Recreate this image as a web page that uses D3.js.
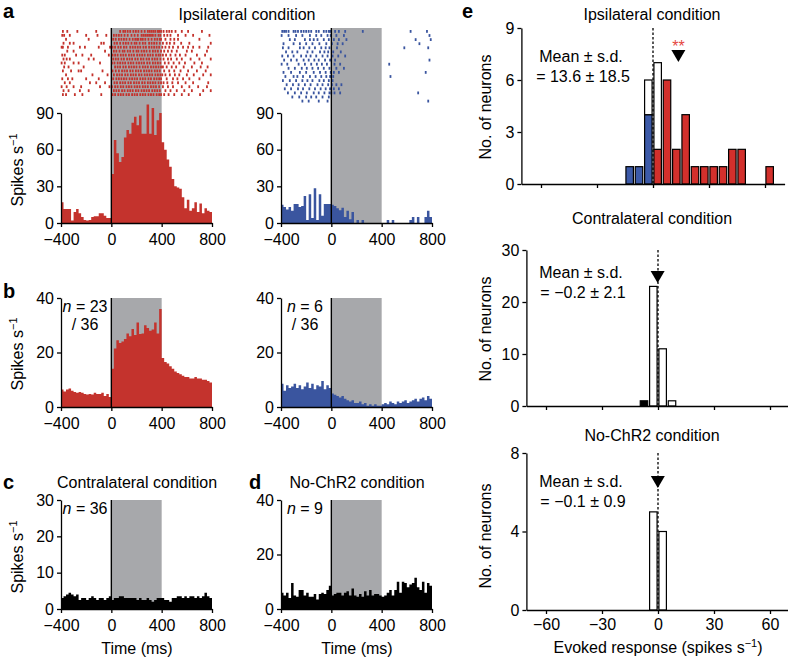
<!DOCTYPE html>
<html>
<head>
<meta charset="utf-8">
<script src="https://cdn.jsdelivr.net/npm/d3@7"></script>
<style>
  body { margin: 0; background: #fff; }
  svg { display: block; font-family: "Liberation Sans", Arial, sans-serif; }
</style>
</head>
<body>
<svg id="fig" width="788" height="664"></svg>
<script>
// ---- data ----
// PSTH bins: 20 ms from -400 to 800 ms
const binStart = d3.range(-400, 800, 20);

// a: single example neurons (spikes/s)
const rateIpsiUp = [
  17, 11.5, 11.5, 11.5, 2, 9, 11.5, 8, 5, 2.5, 2, 2.5, 5, 5.5, 5.5, 8, 8, 6, 4, 4,
  40, 68, 57, 50, 54, 70, 76, 73, 82, 87, 80, 88, 73, 73, 97, 73, 94, 72, 84, 90,
  66, 60, 52, 46, 36, 30, 29, 28, 21, 12, 19, 10, 12, 17, 9, 16, 8, 12, 10, 9
];
const rateIpsiDown = [
  15, 13, 11, 13, 10, 15.5, 15.5, 13, 14, 22, 2.5, 23.5, 4, 28.5, 2.5, 23.5, 6, 15.5, 15.5, 15.5,
  15, 14, 12, 10.5, 12.5, 5, 10, 3, 9, 0, 2.5, 0, 2.5, 0, 0, 0, 0, 0, 0, 0,
  0, 0, 2.5, 0, 2.5, 0, 0, 0, 0, 0, 0, 2.5, 5, 0, 5, 0, 0, 5, 10, 5
];
// b: population averages
const rateUpPop = [
  6.4, 5.7, 6.4, 6.8, 6, 5.5, 5.2, 5.5, 5.2, 4.8, 4.6, 4.8, 4.6, 5.2, 4.8, 4.8, 5.2, 4, 4.8, 3.7,
  14, 21.5, 24.5, 23.5, 24, 25, 27, 26, 28.6, 26.4, 31, 26.8, 27, 30, 29, 28, 28.4, 31, 27, 36,
  18, 16.5, 16, 15, 14, 13, 12.5, 12, 11.5, 11, 11, 10.5, 10.5, 11, 10.5, 10.5, 10, 10, 9.5, 9
];
const rateDownPop = [
  8.5, 6, 8, 7, 7.5, 8.5, 7, 8, 6.5, 7.5, 9, 7, 8.5, 6.5, 8, 7.5, 9.5, 6.5, 8, 7,
  5, 4.5, 4, 3.5, 4, 3, 2.5, 2, 2.5, 1.5, 1.5, 2, 1, 1.5, 0.5, 1, 0.5, 1, 0.5, 0.5,
  1, 1.5, 1, 2, 1.5, 1, 2, 1.5, 2, 2.5, 1.5, 2, 2.5, 3, 2, 3, 3.5, 2.5, 4, 3
];
// c, d
const rateContra = [
  3, 3.5, 4, 4.5, 4, 3.5, 4, 2.5, 3, 3, 2.5, 3, 3.5, 3, 2.5, 3, 3, 2.5, 3, 3.5,
  2.5, 3, 3, 3.5, 3.5, 3, 3, 3, 3, 3, 2.5, 3, 2.5, 2.5, 3, 2.5, 2, 2.5, 3, 3,
  3, 2.5, 2.5, 2, 3, 3, 3.5, 3.5, 3, 3.5, 3, 3.5, 3.5, 3, 3.5, 3, 3.5, 4.5, 3.5, 3
];
const rateNoChR2 = [
  6, 5, 6, 4, 9.5, 5, 4.5, 7, 7, 5, 6, 4.5, 4.5, 5.5, 3.5, 5.5, 6, 5.5, 7, 8.5,
  5, 5.5, 6, 6, 5, 6, 6.5, 5, 7.5, 5, 4.5, 5.5, 4.5, 6.5, 5, 7, 5, 5.5, 5.5, 5,
  4.5, 5, 6, 7, 5, 7, 10, 6, 10, 9.5, 8, 9, 9.5, 11.5, 8, 7, 10, 6, 9.5, 8.5
];

// rasters: spike times (ms) per trial
const rasterUp = [
  [-385,-350,-270,-120,70,95,110,130,150,175,195,215,240,265,290,305,320,335,350,370,380,395,415,440,460,480,510,560,610,720],
  [-390,-375,-330,-200,-110,-40,20,40,60,80,105,130,160,185,210,240,255,270,285,300,315,330,350,375,390,420,445,470,530,590,650,780],
  [-360,-180,15,35,60,80,100,120,145,170,190,205,215,235,250,270,295,320,345,365,385,395,430,470,500,530,700],
  [-380,-330,-300,-80,-60,25,45,70,95,115,135,160,185,200,225,250,270,300,320,340,360,385,410,440,465,500,555,620,790],
  [-395,-385,-345,-250,-210,-100,-10,10,30,55,75,100,120,150,170,190,210,230,255,275,300,320,340,360,380,405,430,460,490,530,570,610,650,700,770],
  [-350,-300,-50,20,40,65,90,105,130,150,175,200,215,240,260,280,305,330,350,370,395,420,450,480,520,600,640,760],
  [-390,-370,-280,-230,-160,-20,10,30,50,75,95,115,140,160,180,205,225,245,265,290,310,330,355,375,390,410,435,470,510,545,590,680,745],
  [-380,-355,-330,-180,-140,15,35,55,80,100,125,145,165,190,210,235,255,280,300,325,345,365,390,415,450,475,520,560,630,700,790],
  [-395,-370,-300,-260,-90,5,25,50,70,90,110,135,155,175,200,220,240,260,285,305,330,350,370,390,425,455,495,540,585,660,720],
  [-375,-340,-220,30,50,70,95,115,140,160,180,200,225,250,270,290,315,335,355,375,395,410,440,480,515,575,640,710,765],
  [-385,-320,-260,-240,-70,10,35,60,85,105,125,150,170,195,215,235,260,280,300,320,345,365,385,420,460,500,550,610,680,750],
  [-360,-150,-30,20,45,65,85,110,130,155,175,195,220,240,265,285,305,325,350,370,390,405,430,465,505,540,600,655,730,790],
  [-390,-345,-310,-200,-100,15,40,60,80,100,120,145,165,185,205,230,250,270,295,315,340,360,380,395,440,490,525,570,620,700],
  [-370,-330,-170,-120,-50,25,45,70,90,110,135,155,180,200,220,245,265,290,310,330,350,375,395,415,445,485,530,590,650,770],
  [-395,-355,-300,-240,-90,-15,5,30,50,75,95,120,140,160,185,205,225,250,270,290,315,335,355,380,410,450,490,560,620,690,760],
  [-380,-340,-250,-180,20,40,60,85,105,130,150,170,195,215,240,260,280,300,325,345,365,385,430,470,520,580,640,730,790],
  [-385,-360,-290,-230,-80,10,30,55,75,95,120,140,165,185,205,230,250,270,295,315,335,360,380,395,420,455,500,560,615,705]
];
const rasterDown = [
  [-390,-375,-360,-340,-300,-285,-265,-240,-220,-200,-180,-160,-120,-100,-60,-40,-20,-10,30,60,110,250,630,760],
  [-395,-340,-280,-230,-170,-120,-80,-30,-5,40,100,780],
  [-330,-290,-210,-170,-140,-110,-60,-20,20,60,120,670,790],
  [-380,-300,-250,-200,-150,-95,-40,5,50,90,700],
  [-385,-340,-250,-220,-175,-130,-80,-45,-15,45,580,770],
  [-360,-310,-270,-190,-150,-90,-55,-25,15,75],
  [-390,-345,-300,-240,-200,-165,-120,-70,-30,10,55,110],
  [-375,-320,-275,-220,-180,-135,-100,-50,-10,30,780],
  [-395,-350,-260,-210,-160,-115,-75,-35,25,70,460],
  [-340,-290,-235,-195,-150,-105,-60,-15,40,100],
  [-380,-320,-250,-200,-140,-90,-45,-5,20,60,750],
  [-365,-300,-270,-225,-170,-125,-80,-40,-10,15,470],
  [-385,-330,-280,-230,-190,-150,-95,-60,-20,10],
  [-355,-305,-260,-210,-165,-110,-70,-25,5,40,80],
  [-370,-320,-265,-225,-175,-130,-85,-45,-10,20,60],
  [-345,-290,-240,-195,-140,-100,-55,-15,0,25,70,690],
  [-310,-255,-200,-160,-120,-70,-20],
  [-230,-180,-100,-30,770]
];

// e: evoked-response histograms (bin width 5 spikes/s)
const ipsiBins  = [-12.5, -7.5, -2.5, 2.5, 7.5, 12.5, 17.5, 22.5, 27.5, 32.5, 37.5, 42.5, 47.5, 52.5, 57.5, 62.5];
const ipsiUp    = [0, 0, 0, 2, 6, 2, 4, 1, 1, 1, 1, 2, 2, 0, 0, 1];
const ipsiDown  = [1, 1, 4, 0, 0, 0, 0, 0, 0, 0, 0, 0, 0, 0, 0, 0];
const ipsiNs    = [0, 0, 2, 5, 0, 0, 0, 0, 0, 0, 0, 0, 0, 0, 0, 0];
const contraBins = [-7.5, -2.5, 2.5, 7.5];
const contraDec  = [1, 0, 0, 0];
const contraNs   = [0, 23, 11, 1];
const noChR2Bins = [-2.5, 2.5];
const noChR2Ns   = [5, 4];
const means = { ipsi: 13.6, contra: -0.2, noChR2: -0.1 };

// ---- drawing ----
const svg = d3.select('#fig');
const FONT = '"Liberation Sans", Arial, sans-serif';
const red = '#c4332d', blue = '#3a559f', gray = '#a7a8ab';
const eRed = '#d3302c', eBlue = '#3c5aa8';

function styleAxis(g) {
  g.attr('font-size', 16).attr('font-family', FONT);
  g.selectAll('path, line').attr('stroke', '#000').attr('stroke-width', 1.3);
}

function psth(cfg) {
  const g = svg.append('g');
  const x = d3.scaleLinear().domain([-400, 800]).range([cfg.x0, cfg.x1]);
  const y = d3.scaleLinear().domain([0, cfg.ymax]).range([cfg.y0, cfg.y1]);
  const top = cfg.shadeTop !== undefined ? cfg.shadeTop : y(cfg.ymax);

  g.append('rect')
    .attr('x', x(0)).attr('y', top)
    .attr('width', x(400) - x(0)).attr('height', y(0) - top)
    .attr('fill', gray);

  // step histogram as one filled path (no seams between bins)
  const pts = cfg.rates.map((d, i) => [binStart[i], d]);
  pts.push([800, cfg.rates[cfg.rates.length - 1]]);
  const area = d3.area()
    .x(d => x(d[0]))
    .y0(y(0))
    .y1(d => y(d[1]))
    .curve(d3.curveStepAfter);
  g.append('path').attr('d', area(pts)).attr('fill', cfg.color);

  if (cfg.raster) {
    cfg.raster.forEach((trial, r) => {
      g.selectAll(null)
        .data(trial)
        .enter()
        .append('rect')
        .attr('x', t => x(t) - 0.9)
        .attr('y', cfg.rowTop + r * cfg.rowGap)
        .attr('width', 1.8)
        .attr('height', 2.8)
        .attr('fill', cfg.color);
    });
  }

  g.append('line')
    .attr('x1', x(0)).attr('x2', x(0))
    .attr('y1', top).attr('y2', y(0))
    .attr('stroke', '#000').attr('stroke-width', 1.4);

  g.append('g')
    .attr('transform', `translate(${cfg.x0},0)`)
    .call(d3.axisLeft(y).tickValues(cfg.yticks).tickSize(4).tickSizeOuter(0).tickPadding(3))
    .call(styleAxis);

  g.append('g')
    .attr('transform', `translate(0,${cfg.y0})`)
    .call(d3.axisBottom(x).tickValues([-400, 0, 400, 800]).tickSize(4).tickSizeOuter(0).tickPadding(7))
    .call(styleAxis);

  if (cfg.n) {
    const t = g.append('text').attr('x', cfg.x0 + 24).attr('y', cfg.y1 + 14)
      .attr('text-anchor', 'middle').attr('font-size', 16);
    t.append('tspan').attr('font-style', 'italic').text('n');
    t.append('tspan').text(' = ' + cfg.n);
    if (cfg.of) {
      g.append('text').attr('x', cfg.x0 + 24).attr('y', cfg.y1 + 32)
        .attr('text-anchor', 'middle').attr('font-size', 16).text('/ ' + cfg.of);
    }
  }
}

function evoked(cfg) {
  const g = svg.append('g');
  const half = 70.5 * 56 / 30;
  const x = d3.scaleLinear().domain([-70.5, 70.5]).range([cfg.cx - half, cfg.cx + half]);
  const y = d3.scaleLinear().domain([0, cfg.ymax]).range([cfg.y0, cfg.y1]);

  const base = cfg.bins.map(() => 0);
  cfg.layers.forEach(layer => {
    layer.counts.forEach((c, i) => {
      if (c > 0) {
        g.append('rect')
          .attr('x', x(cfg.bins[i] - 2)).attr('width', x(4) - x(0))
          .attr('y', y(base[i] + c)).attr('height', y(base[i]) - y(base[i] + c))
          .attr('fill', layer.fill).attr('stroke', '#000').attr('stroke-width', 1.2);
      }
      base[i] += c;
    });
  });

  g.append('line')
    .attr('x1', x(0)).attr('x2', x(0))
    .attr('y1', y(cfg.ymax)).attr('y2', y(0))
    .attr('stroke', '#000').attr('stroke-width', 1.3).attr('stroke-dasharray', '2.5,2');

  const mx = x(cfg.mean);
  g.append('path')
    .attr('d', `M${mx - 7},${cfg.triTop}L${mx + 7},${cfg.triTop}L${mx},${cfg.triTop + 12}Z`)
    .attr('fill', '#000');
  if (cfg.stars) {
    g.append('text').attr('x', mx).attr('y', cfg.triTop + 2)
      .attr('text-anchor', 'middle').attr('font-size', 16).attr('fill', '#e5463f').text('**');
  }

  g.append('g')
    .attr('transform', `translate(${cfg.cx - half},0)`)
    .call(d3.axisLeft(y).tickValues(cfg.yticks).tickSize(4).tickSizeOuter(0).tickPadding(3))
    .call(styleAxis);

  const xa = d3.axisBottom(x).tickValues([-60, -30, 0, 30, 60]).tickSize(4).tickSizeOuter(0).tickPadding(5);
  if (!cfg.labels) xa.tickFormat('');
  g.append('g')
    .attr('transform', `translate(0,${cfg.y0})`)
    .call(xa)
    .call(styleAxis);

  g.append('text').attr('x', 652).attr('y', cfg.titleY)
    .attr('text-anchor', 'middle').attr('font-size', 16).text(cfg.title);
  g.append('text').attr('x', 581).attr('y', cfg.meanY)
    .attr('text-anchor', 'middle').attr('font-size', 16).text('Mean ± s.d.');
  g.append('text').attr('x', 583).attr('y', cfg.meanY + 20)
    .attr('text-anchor', 'middle').attr('font-size', 16).text(cfg.meanText);

  g.append('text')
    .attr('transform', `translate(491,${cfg.labelY}) rotate(-90)`)
    .attr('text-anchor', 'middle').attr('font-size', 16).text('No. of neurons');
}

function spikesLabel(cy) {
  const t = svg.append('text')
    .attr('transform', `translate(23,${cy}) rotate(-90)`)
    .attr('text-anchor', 'middle').attr('font-size', 16);
  t.append('tspan').text('Spikes s');
  t.append('tspan').attr('font-size', 11).attr('dy', -6).text('−1');
}

function label(txt, x, y) {
  svg.append('text').attr('x', x).attr('y', y)
    .attr('font-size', 20).attr('font-weight', 'bold').text(txt);
}

svg.attr('font-family', FONT);

// panel a
psth({ x0: 61, x1: 212, y0: 223, y1: 113, ymax: 90, yticks: [0, 30, 60, 90],
  rates: rateIpsiUp, color: red, shadeTop: 28, raster: rasterUp, rowTop: 30, rowGap: 3.95 });
psth({ x0: 281, x1: 432, y0: 223, y1: 113, ymax: 90, yticks: [0, 30, 60, 90],
  rates: rateIpsiDown, color: blue, shadeTop: 28, raster: rasterDown, rowTop: 30, rowGap: 4.1 });
svg.append('text').attr('x', 247).attr('y', 20).attr('text-anchor', 'middle')
  .attr('font-size', 16).text('Ipsilateral condition');
spikesLabel(170);

// panel b
psth({ x0: 61, x1: 212, y0: 407, y1: 298, ymax: 40, yticks: [0, 20, 40],
  rates: rateUpPop, color: red, n: 23, of: 36 });
psth({ x0: 281, x1: 432, y0: 407, y1: 298, ymax: 40, yticks: [0, 20, 40],
  rates: rateDownPop, color: blue, n: 6, of: 36 });
spikesLabel(354);

// panels c, d
psth({ x0: 61, x1: 212, y0: 609, y1: 500, ymax: 30, yticks: [0, 10, 20, 30],
  rates: rateContra, color: '#000', n: 36 });
psth({ x0: 281, x1: 432, y0: 609, y1: 500, ymax: 40, yticks: [0, 20, 40],
  rates: rateNoChR2, color: '#000', n: 9 });
spikesLabel(557);
svg.append('text').attr('x', 137).attr('y', 488).attr('text-anchor', 'middle')
  .attr('font-size', 16).text('Contralateral condition');
svg.append('text').attr('x', 357).attr('y', 488).attr('text-anchor', 'middle')
  .attr('font-size', 16).text('No-ChR2 condition');
svg.append('text').attr('x', 137).attr('y', 654).attr('text-anchor', 'middle')
  .attr('font-size', 16).text('Time (ms)');
svg.append('text').attr('x', 357).attr('y', 654).attr('text-anchor', 'middle')
  .attr('font-size', 16).text('Time (ms)');

// panel e
evoked({ cx: 653, y0: 184, y1: 28, ymax: 9, yticks: [0, 3, 6, 9], bins: ipsiBins,
  layers: [{ counts: ipsiUp, fill: eRed }, { counts: ipsiDown, fill: eBlue }, { counts: ipsiNs, fill: '#fff' }],
  mean: means.ipsi, triTop: 50, stars: true, title: 'Ipsilateral condition', titleY: 20,
  meanY: 62, meanText: '= 13.6 ± 18.5', labelY: 107 });
evoked({ cx: 658, y0: 406, y1: 250, ymax: 30, yticks: [0, 10, 20, 30], bins: contraBins,
  layers: [{ counts: contraDec, fill: '#000' }, { counts: contraNs, fill: '#fff' }],
  mean: means.contra, triTop: 271, title: 'Contralateral condition', titleY: 224,
  meanY: 278, meanText: '= −0.2 ± 2.1', labelY: 329 });
evoked({ cx: 658, y0: 610, y1: 453, ymax: 8, yticks: [0, 4, 8], bins: noChR2Bins,
  layers: [{ counts: noChR2Ns, fill: '#fff' }],
  mean: means.noChR2, triTop: 476, title: 'No-ChR2 condition', titleY: 441,
  meanY: 487, meanText: '= −0.1 ± 0.9', labelY: 536, labels: true });
const ev = svg.append('text').attr('x', 658).attr('y', 653).attr('text-anchor', 'middle').attr('font-size', 16);
ev.append('tspan').text('Evoked response (spikes s');
ev.append('tspan').attr('font-size', 11).attr('dy', -6).text('−1');
ev.append('tspan').attr('dy', 6).text(')');

label('a', 3, 18);
label('b', 3, 298);
label('c', 3, 489);
label('d', 249, 489);
label('e', 462, 18);
</script>
</body>
</html>
